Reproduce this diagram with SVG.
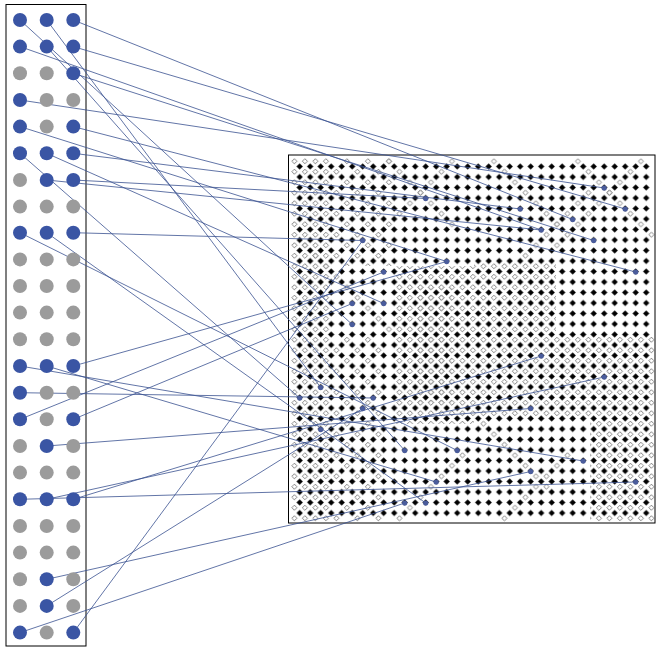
<svg xmlns="http://www.w3.org/2000/svg" width="664" height="652" viewBox="0 0 664 652">
<style>
.frame{fill:#fff;stroke:#000;stroke-width:1}
.b{fill:#3a55a4}
.g{fill:#9b9b9b}
.w{fill:none;stroke:#3a5290;stroke-width:0.8}
.p{fill:#4a5c9c}
.wd{fill:none;stroke:url(#wt);stroke-width:6;stroke-linecap:square}
</style>
<defs>
<pattern id="bk" x="294.45" y="161.25" width="10.5" height="10.5" patternUnits="userSpaceOnUse"><path d="M5.25 2.1L8.4 5.25L5.25 8.4L2.1 5.25Z" fill="#000"/></pattern>
<pattern id="wt" x="289.2" y="156" width="10.5" height="10.5" patternUnits="userSpaceOnUse"><path d="M5.25 2.7L7.8 5.25L5.25 7.8L2.7 5.25Z" fill="#fff" stroke="#333" stroke-width="0.6"/></pattern>
<pattern id="wdr" x="289.2" y="156" width="21" height="21" patternUnits="userSpaceOnUse"><path d="M5.25 2.7L7.8 5.25L5.25 7.8L2.7 5.25ZM15.75 13.2L18.3 15.75L15.75 18.3L13.2 15.75Z" fill="#fff" stroke="#333" stroke-width="0.6"/></pattern>
<pattern id="wur" x="289.2" y="156" width="21" height="21" patternUnits="userSpaceOnUse"><path d="M15.75 2.7L18.3 5.25L15.75 7.8L13.2 5.25ZM5.25 13.2L7.8 15.75L5.25 18.3L2.7 15.75Z" fill="#fff" stroke="#333" stroke-width="0.6"/></pattern>
</defs>
<rect x="0" y="0" width="664" height="652" fill="#fff"/>
<g id="left-panel">
<rect class="frame" x="6" y="4.5" width="80" height="641.5"/>
</g>
<g id="right-panel">
<rect class="frame" x="288.5" y="155" width="366.5" height="368"/>
<rect x="294.45" y="161.25" width="357" height="357" fill="url(#bk)"/>
<rect x="289.2" y="156" width="42.5" height="367" fill="url(#wdr)"/>
<rect x="289.2" y="156" width="42.5" height="367" fill="url(#wur)"/>
<path d="M394 266H474V424H394Z" fill="url(#wdr)"/>
<path d="M394 266H474V424H394Z" fill="url(#wur)"/>
<path d="M416 287H452V403H416Z" fill="url(#wt)"/>
<path d="M474 263H556V337H655V523H590V420H474Z" fill="url(#wdr)"/>
<path d="M474 263H556V337H655V523H590V420H474Z" fill="url(#wur)"/>
<rect x="331.7" y="337" width="52.5" height="186" fill="url(#wdr)"/>
<rect x="331.7" y="156" width="63" height="110" fill="url(#wur)"/>
<path d="M300 240L394 334" class="wd"/>
<line class="wd" x1="493.95" y1="161.25" x2="556.95" y2="224.25"/>
<line class="wd" x1="588.45" y1="192.75" x2="525.45" y2="255.75"/>
<line class="wd" x1="577.95" y1="161.25" x2="651.45" y2="234.75"/>
<line class="wd" x1="640.95" y1="161.25" x2="556.95" y2="245.25"/>
<line class="wd" x1="388.95" y1="161.25" x2="451.95" y2="224.25"/>
<line class="wd" x1="451.95" y1="161.25" x2="399.45" y2="213.75"/>
<line class="wd" x1="483.45" y1="423.75" x2="546.45" y2="486.75"/>
<line class="wd" x1="504.45" y1="518.25" x2="567.45" y2="455.25"/>
<line class="wd" x1="399.45" y1="518.25" x2="462.45" y2="455.25"/>
</g>
<g id="connectors">
<line class="w" x1="20" y1="20" x2="352.2" y2="324.5"/>
<line class="w" x1="46.7" y1="20" x2="320.7" y2="387.5"/>
<line class="w" x1="73.3" y1="20" x2="572.7" y2="219.5"/>
<line class="w" x1="20" y1="46.6" x2="541.2" y2="230"/>
<line class="w" x1="46.7" y1="46.6" x2="404.7" y2="450.5"/>
<line class="w" x1="73.3" y1="46.6" x2="625.2" y2="209"/>
<line class="w" x1="73.3" y1="73.3" x2="593.7" y2="240.5"/>
<line class="w" x1="20" y1="100" x2="604.2" y2="188"/>
<line class="w" x1="20" y1="126.6" x2="446.7" y2="261.5"/>
<line class="w" x1="73.3" y1="126.6" x2="635.7" y2="272"/>
<line class="w" x1="20" y1="153.3" x2="299.7" y2="398"/>
<line class="w" x1="46.7" y1="153.3" x2="383.7" y2="303.5"/>
<line class="w" x1="73.3" y1="153.3" x2="520.2" y2="209"/>
<line class="w" x1="46.7" y1="180" x2="541.2" y2="230"/>
<line class="w" x1="73.3" y1="180" x2="425.7" y2="198.5"/>
<line class="w" x1="20" y1="232.7" x2="457.2" y2="450.5"/>
<line class="w" x1="46.7" y1="232.7" x2="425.7" y2="503"/>
<line class="w" x1="73.3" y1="232.7" x2="362.7" y2="240.5"/>
<line class="w" x1="20" y1="366" x2="583.2" y2="461"/>
<line class="w" x1="46.7" y1="366" x2="436.2" y2="482"/>
<line class="w" x1="73.3" y1="366" x2="446.7" y2="261.5"/>
<line class="w" x1="20" y1="392.7" x2="373.2" y2="398"/>
<line class="w" x1="20" y1="419.3" x2="383.7" y2="272"/>
<line class="w" x1="73.3" y1="419.3" x2="352.2" y2="303.5"/>
<line class="w" x1="46.7" y1="446" x2="530.7" y2="408.5"/>
<line class="w" x1="20" y1="499.3" x2="635.7" y2="482"/>
<line class="w" x1="46.7" y1="499.3" x2="604.2" y2="377"/>
<line class="w" x1="73.3" y1="499.3" x2="541.2" y2="356"/>
<line class="w" x1="46.7" y1="579.3" x2="530.7" y2="471.5"/>
<line class="w" x1="46.7" y1="605.9" x2="362.7" y2="408.5"/>
<line class="w" x1="20" y1="632.6" x2="404.7" y2="503"/>
<line class="w" x1="73.3" y1="632.6" x2="362.7" y2="240.5"/>
</g>
<g id="pins">
<circle class="p" cx="604.2" cy="188" r="2.6"/><circle class="p" cx="625.2" cy="209" r="2.6"/><circle class="p" cx="520.2" cy="209" r="2.6"/><circle class="p" cx="572.7" cy="219.5" r="2.6"/><circle class="p" cx="541.2" cy="230" r="2.6"/><circle class="p" cx="593.7" cy="240.5" r="2.6"/><circle class="p" cx="635.7" cy="272" r="2.6"/><circle class="p" cx="425.7" cy="198.5" r="2.6"/><circle class="p" cx="362.7" cy="240.5" r="2.6"/><circle class="p" cx="446.7" cy="261.5" r="2.6"/><circle class="p" cx="383.7" cy="272" r="2.6"/><circle class="p" cx="352.2" cy="303.5" r="2.6"/><circle class="p" cx="383.7" cy="303.5" r="2.6"/><circle class="p" cx="352.2" cy="324.5" r="2.6"/><circle class="p" cx="320.7" cy="387.5" r="2.6"/><circle class="p" cx="299.7" cy="398" r="2.6"/><circle class="p" cx="373.2" cy="398" r="2.6"/><circle class="p" cx="362.7" cy="408.5" r="2.6"/><circle class="p" cx="320.7" cy="429.5" r="2.6"/><circle class="p" cx="404.7" cy="450.5" r="2.6"/><circle class="p" cx="457.2" cy="450.5" r="2.6"/><circle class="p" cx="436.2" cy="482" r="2.6"/><circle class="p" cx="404.7" cy="503" r="2.6"/><circle class="p" cx="425.7" cy="503" r="2.6"/><circle class="p" cx="541.2" cy="356" r="2.6"/><circle class="p" cx="604.2" cy="377" r="2.6"/><circle class="p" cx="530.7" cy="408.5" r="2.6"/><circle class="p" cx="583.2" cy="461" r="2.6"/><circle class="p" cx="530.7" cy="471.5" r="2.6"/><circle class="p" cx="635.7" cy="482" r="2.6"/>
</g>
<g id="pads">
<g id="r0"><circle class="b" cx="20" cy="20" r="7"/><circle class="b" cx="46.7" cy="20" r="7"/><circle class="b" cx="73.3" cy="20" r="7"/></g>
<g id="r1"><circle class="b" cx="20" cy="46.6" r="7"/><circle class="b" cx="46.7" cy="46.6" r="7"/><circle class="b" cx="73.3" cy="46.6" r="7"/></g>
<g id="r2"><circle class="g" cx="20" cy="73.3" r="7"/><circle class="g" cx="46.7" cy="73.3" r="7"/><circle class="b" cx="73.3" cy="73.3" r="7"/></g>
<g id="r3"><circle class="b" cx="20" cy="100" r="7"/><circle class="g" cx="46.7" cy="100" r="7"/><circle class="g" cx="73.3" cy="100" r="7"/></g>
<g id="r4"><circle class="b" cx="20" cy="126.6" r="7"/><circle class="g" cx="46.7" cy="126.6" r="7"/><circle class="b" cx="73.3" cy="126.6" r="7"/></g>
<g id="r5"><circle class="b" cx="20" cy="153.3" r="7"/><circle class="b" cx="46.7" cy="153.3" r="7"/><circle class="b" cx="73.3" cy="153.3" r="7"/></g>
<g id="r6"><circle class="g" cx="20" cy="180" r="7"/><circle class="b" cx="46.7" cy="180" r="7"/><circle class="b" cx="73.3" cy="180" r="7"/></g>
<g id="r7"><circle class="g" cx="20" cy="206.6" r="7"/><circle class="g" cx="46.7" cy="206.6" r="7"/><circle class="g" cx="73.3" cy="206.6" r="7"/></g>
<g id="r8"><circle class="b" cx="20" cy="232.7" r="7"/><circle class="b" cx="46.7" cy="232.7" r="7"/><circle class="b" cx="73.3" cy="232.7" r="7"/></g>
<g id="r9"><circle class="g" cx="20" cy="259.4" r="7"/><circle class="g" cx="46.7" cy="259.4" r="7"/><circle class="g" cx="73.3" cy="259.4" r="7"/></g>
<g id="r10"><circle class="g" cx="20" cy="286" r="7"/><circle class="g" cx="46.7" cy="286" r="7"/><circle class="g" cx="73.3" cy="286" r="7"/></g>
<g id="r11"><circle class="g" cx="20" cy="312.6" r="7"/><circle class="g" cx="46.7" cy="312.6" r="7"/><circle class="g" cx="73.3" cy="312.6" r="7"/></g>
<g id="r12"><circle class="g" cx="20" cy="339.3" r="7"/><circle class="g" cx="46.7" cy="339.3" r="7"/><circle class="g" cx="73.3" cy="339.3" r="7"/></g>
<g id="r13"><circle class="b" cx="20" cy="366" r="7"/><circle class="b" cx="46.7" cy="366" r="7"/><circle class="b" cx="73.3" cy="366" r="7"/></g>
<g id="r14"><circle class="b" cx="20" cy="392.7" r="7"/><circle class="g" cx="46.7" cy="392.7" r="7"/><circle class="g" cx="73.3" cy="392.7" r="7"/></g>
<g id="r15"><circle class="b" cx="20" cy="419.3" r="7"/><circle class="g" cx="46.7" cy="419.3" r="7"/><circle class="b" cx="73.3" cy="419.3" r="7"/></g>
<g id="r16"><circle class="g" cx="20" cy="446" r="7"/><circle class="b" cx="46.7" cy="446" r="7"/><circle class="g" cx="73.3" cy="446" r="7"/></g>
<g id="r17"><circle class="g" cx="20" cy="472.6" r="7"/><circle class="g" cx="46.7" cy="472.6" r="7"/><circle class="g" cx="73.3" cy="472.6" r="7"/></g>
<g id="r18"><circle class="b" cx="20" cy="499.3" r="7"/><circle class="b" cx="46.7" cy="499.3" r="7"/><circle class="b" cx="73.3" cy="499.3" r="7"/></g>
<g id="r19"><circle class="g" cx="20" cy="526" r="7"/><circle class="g" cx="46.7" cy="526" r="7"/><circle class="g" cx="73.3" cy="526" r="7"/></g>
<g id="r20"><circle class="g" cx="20" cy="552.6" r="7"/><circle class="g" cx="46.7" cy="552.6" r="7"/><circle class="g" cx="73.3" cy="552.6" r="7"/></g>
<g id="r21"><circle class="g" cx="20" cy="579.3" r="7"/><circle class="b" cx="46.7" cy="579.3" r="7"/><circle class="g" cx="73.3" cy="579.3" r="7"/></g>
<g id="r22"><circle class="g" cx="20" cy="605.9" r="7"/><circle class="b" cx="46.7" cy="605.9" r="7"/><circle class="g" cx="73.3" cy="605.9" r="7"/></g>
<g id="r23"><circle class="b" cx="20" cy="632.6" r="7"/><circle class="g" cx="46.7" cy="632.6" r="7"/><circle class="b" cx="73.3" cy="632.6" r="7"/></g>
</g>
</svg>
